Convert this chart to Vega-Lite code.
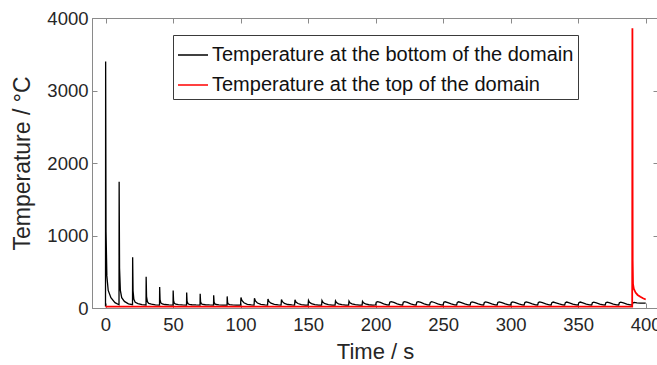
{
  "$schema": "https://vega.github.io/schema/vega-lite/v6.json",
  "width": 566,
  "height": 290,
  "autosize": {"type": "none"},
  "padding": {"left": 92, "top": 18, "right": 0, "bottom": 57},
  "background": "white",
  "config": {
    "font": "Liberation Sans",
    "view": {"stroke": "#8a8a8a", "strokeWidth": 1},
    "axis": {
      "grid": false,
      "domainColor": "#8a8a8a",
      "tickColor": "#8a8a8a",
      "tickSize": -5,
      "labelColor": "#262626",
      "titleColor": "#262626",
      "labelFont": "Liberation Sans",
      "titleFont": "Liberation Sans",
      "labelFontSize": 18.5,
      "titleFontSize": 22,
      "titleFontWeight": "normal"
    },
    "legend": {
      "orient": "none",
      "legendX": 81,
      "legendY": 17,
      "title": null,
      "padding": 4,
      "rowPadding": 4,
      "labelFont": "Liberation Sans",
      "labelFontSize": 20,
      "labelColor": "#111111",
      "labelLimit": 0,
      "labelOffset": 3,
      "symbolType": "stroke",
      "symbolSize": 900,
      "symbolStrokeWidth": 1.5,
      "strokeColor": "#3a3a3a",
      "fillColor": "white"
    }
  },
  "layer": [
    {
      "data": {"values": [
        {"t": 0, "v": 20}, {"t": 0.1, "v": 3400}, {"t": 0.4, "v": 1048}, {"t": 1, "v": 443}, {"t": 2, "v": 242}, {"t": 4, "v": 141}, {"t": 7, "v": 74},
        {"t": 10, "v": 45}, {"t": 10.1, "v": 1740}, {"t": 10.4, "v": 550}, {"t": 11, "v": 244}, {"t": 12, "v": 142}, {"t": 14, "v": 91}, {"t": 17, "v": 57},
        {"t": 20, "v": 45}, {"t": 20.1, "v": 700}, {"t": 20.4, "v": 238}, {"t": 21, "v": 119}, {"t": 22, "v": 80}, {"t": 24, "v": 60}, {"t": 27, "v": 47},
        {"t": 30, "v": 42}, {"t": 30.1, "v": 430}, {"t": 30.4, "v": 157}, {"t": 31, "v": 87}, {"t": 32, "v": 63}, {"t": 34, "v": 52}, {"t": 37, "v": 44},
        {"t": 40, "v": 41}, {"t": 40.1, "v": 290}, {"t": 40.4, "v": 115}, {"t": 41, "v": 70}, {"t": 42, "v": 55}, {"t": 44, "v": 48}, {"t": 47, "v": 43},
        {"t": 50, "v": 41}, {"t": 50.1, "v": 240}, {"t": 50.4, "v": 100}, {"t": 51, "v": 64}, {"t": 52, "v": 52}, {"t": 54, "v": 46}, {"t": 57, "v": 42},
        {"t": 60, "v": 41}, {"t": 60.1, "v": 215}, {"t": 60.4, "v": 93}, {"t": 61, "v": 61}, {"t": 62, "v": 51}, {"t": 64, "v": 45}, {"t": 67, "v": 42},
        {"t": 70, "v": 41}, {"t": 70.1, "v": 195}, {"t": 70.4, "v": 87}, {"t": 71, "v": 59}, {"t": 72, "v": 49}, {"t": 74, "v": 45}, {"t": 77, "v": 42},
        {"t": 80, "v": 41}, {"t": 80.1, "v": 175}, {"t": 80.4, "v": 81}, {"t": 81, "v": 56}, {"t": 82, "v": 48}, {"t": 84, "v": 44}, {"t": 87, "v": 41},
        {"t": 90, "v": 41}, {"t": 90.1, "v": 160}, {"t": 90.4, "v": 76}, {"t": 91, "v": 54}, {"t": 92, "v": 47}, {"t": 94, "v": 44}, {"t": 97, "v": 41},
        {"t": 100, "v": 41}, {"t": 100.3, "v": 145}, {"t": 101, "v": 103}, {"t": 102.5, "v": 72}, {"t": 105, "v": 51}, {"t": 108, "v": 42},
        {"t": 110, "v": 41}, {"t": 110.3, "v": 135}, {"t": 111, "v": 97}, {"t": 112.5, "v": 69}, {"t": 115, "v": 50}, {"t": 118, "v": 42},
        {"t": 120, "v": 41}, {"t": 120.3, "v": 125}, {"t": 121, "v": 91}, {"t": 122.5, "v": 66}, {"t": 125, "v": 49}, {"t": 128, "v": 42},
        {"t": 130, "v": 41}, {"t": 130.3, "v": 118}, {"t": 131, "v": 87}, {"t": 132.5, "v": 63}, {"t": 135, "v": 48}, {"t": 138, "v": 42},
        {"t": 140, "v": 41}, {"t": 140.3, "v": 112}, {"t": 141, "v": 83}, {"t": 142.5, "v": 62}, {"t": 145, "v": 47}, {"t": 148, "v": 41},
        {"t": 150, "v": 41}, {"t": 150.3, "v": 106}, {"t": 151, "v": 80}, {"t": 152.5, "v": 60}, {"t": 155, "v": 47}, {"t": 158, "v": 41},
        {"t": 160, "v": 41}, {"t": 160.3, "v": 102}, {"t": 161, "v": 77}, {"t": 162.5, "v": 59}, {"t": 165, "v": 46}, {"t": 168, "v": 41},
        {"t": 170, "v": 41}, {"t": 170.3, "v": 98}, {"t": 171, "v": 75}, {"t": 172.5, "v": 57}, {"t": 175, "v": 46}, {"t": 178, "v": 41},
        {"t": 180, "v": 41}, {"t": 180.3, "v": 95}, {"t": 181, "v": 73}, {"t": 182.5, "v": 57}, {"t": 185, "v": 46}, {"t": 188, "v": 41},
        {"t": 190, "v": 41}, {"t": 190.3, "v": 92}, {"t": 191, "v": 71}, {"t": 192.5, "v": 56}, {"t": 195, "v": 45}, {"t": 198, "v": 41},
        {"t": 200, "v": 42}, {"t": 200.5, "v": 79}, {"t": 201.5, "v": 88}, {"t": 203.5, "v": 77}, {"t": 206, "v": 58}, {"t": 208.5, "v": 44},
        {"t": 210, "v": 42}, {"t": 210.5, "v": 79}, {"t": 211.5, "v": 88}, {"t": 213.5, "v": 77}, {"t": 216, "v": 58}, {"t": 218.5, "v": 44},
        {"t": 220, "v": 42}, {"t": 220.5, "v": 79}, {"t": 221.5, "v": 88}, {"t": 223.5, "v": 77}, {"t": 226, "v": 58}, {"t": 228.5, "v": 44},
        {"t": 230, "v": 42}, {"t": 230.5, "v": 79}, {"t": 231.5, "v": 87}, {"t": 233.5, "v": 76}, {"t": 236, "v": 58}, {"t": 238.5, "v": 44},
        {"t": 240, "v": 42}, {"t": 240.5, "v": 78}, {"t": 241.5, "v": 87}, {"t": 243.5, "v": 76}, {"t": 246, "v": 57}, {"t": 248.5, "v": 44},
        {"t": 250, "v": 42}, {"t": 250.5, "v": 78}, {"t": 251.5, "v": 86}, {"t": 253.5, "v": 75}, {"t": 256, "v": 57}, {"t": 258.5, "v": 44},
        {"t": 260, "v": 42}, {"t": 260.5, "v": 77}, {"t": 261.5, "v": 86}, {"t": 263.5, "v": 75}, {"t": 266, "v": 57}, {"t": 268.5, "v": 44},
        {"t": 270, "v": 42}, {"t": 270.5, "v": 77}, {"t": 271.5, "v": 85}, {"t": 273.5, "v": 75}, {"t": 276, "v": 57}, {"t": 278.5, "v": 44},
        {"t": 280, "v": 42}, {"t": 280.5, "v": 76}, {"t": 281.5, "v": 85}, {"t": 283.5, "v": 74}, {"t": 286, "v": 56}, {"t": 288.5, "v": 44},
        {"t": 290, "v": 42}, {"t": 290.5, "v": 76}, {"t": 291.5, "v": 84}, {"t": 293.5, "v": 74}, {"t": 296, "v": 56}, {"t": 298.5, "v": 44},
        {"t": 300, "v": 42}, {"t": 300.5, "v": 75}, {"t": 301.5, "v": 83}, {"t": 303.5, "v": 73}, {"t": 306, "v": 56}, {"t": 308.5, "v": 44},
        {"t": 310, "v": 42}, {"t": 310.5, "v": 75}, {"t": 311.5, "v": 83}, {"t": 313.5, "v": 73}, {"t": 316, "v": 56}, {"t": 318.5, "v": 44},
        {"t": 320, "v": 42}, {"t": 320.5, "v": 75}, {"t": 321.5, "v": 83}, {"t": 323.5, "v": 73}, {"t": 326, "v": 56}, {"t": 328.5, "v": 44},
        {"t": 330, "v": 42}, {"t": 330.5, "v": 74}, {"t": 331.5, "v": 82}, {"t": 333.5, "v": 72}, {"t": 336, "v": 56}, {"t": 338.5, "v": 44},
        {"t": 340, "v": 42}, {"t": 340.5, "v": 74}, {"t": 341.5, "v": 82}, {"t": 343.5, "v": 72}, {"t": 346, "v": 55}, {"t": 348.5, "v": 44},
        {"t": 350, "v": 42}, {"t": 350.5, "v": 74}, {"t": 351.5, "v": 82}, {"t": 353.5, "v": 72}, {"t": 356, "v": 55}, {"t": 358.5, "v": 44},
        {"t": 360, "v": 42}, {"t": 360.5, "v": 73}, {"t": 361.5, "v": 81}, {"t": 363.5, "v": 71}, {"t": 366, "v": 55}, {"t": 368.5, "v": 44},
        {"t": 370, "v": 42}, {"t": 370.5, "v": 73}, {"t": 371.5, "v": 81}, {"t": 373.5, "v": 71}, {"t": 376, "v": 55}, {"t": 378.5, "v": 44},
        {"t": 380, "v": 42}, {"t": 380.5, "v": 73}, {"t": 381.5, "v": 80}, {"t": 383.5, "v": 71}, {"t": 386, "v": 55}, {"t": 388.5, "v": 44},
        {"t": 390, "v": 42}, {"t": 390.5, "v": 70}, {"t": 391.5, "v": 78}, {"t": 393.5, "v": 72}, {"t": 396, "v": 68}, {"t": 400, "v": 66}
      ]},
      "mark": {"type": "line", "strokeWidth": 1.3, "clip": true},
      "encoding": {
        "x": {"field": "t", "type": "quantitative", "scale": {"domain": [-10, 409.1], "nice": false, "zero": false},
              "axis": {"orient": "bottom", "values": [0, 50, 100, 150, 200, 250, 300, 350, 400], "format": "d", "title": "Time / s", "labelPadding": 12, "titlePadding": 8}},
        "y": {"field": "v", "type": "quantitative", "scale": {"domain": [0, 4000], "nice": false},
              "axis": {"orient": "left", "values": [0, 1000, 2000, 3000, 4000], "format": "d", "title": "Temperature / °C", "titleFontSize": 23, "labelPadding": 9, "titlePadding": 12}},
        "color": {"datum": "Temperature at the bottom of the domain", "type": "nominal",
                  "scale": {"domain": ["Temperature at the bottom of the domain", "Temperature at the top of the domain"], "range": ["#000000", "#ff0000"]}}
      }
    },
    {
      "data": {"values": [
        {"t": 0, "v": 20}, {"t": 390, "v": 20}, {"t": 390.15, "v": 3860}, {"t": 390.35, "v": 650}, {"t": 390.6, "v": 330},
        {"t": 391.2, "v": 265}, {"t": 392.5, "v": 212}, {"t": 394, "v": 180}, {"t": 396, "v": 155}, {"t": 398, "v": 135}, {"t": 400, "v": 118}
      ]},
      "mark": {"type": "line", "strokeWidth": 1.8, "clip": true},
      "encoding": {
        "x": {"field": "t", "type": "quantitative", "axis": null},
        "y": {"field": "v", "type": "quantitative", "axis": null},
        "color": {"datum": "Temperature at the top of the domain", "type": "nominal"}
      }
    },
    {
      "data": {"values": [
        {"t": 0, "v": 20}, {"t": 400, "v": 20}
      ]},
      "mark": {"type": "line", "opacity": 0},
      "encoding": {
        "x": {"field": "t", "type": "quantitative",
              "axis": {"orient": "top", "values": [0, 50, 100, 150, 200, 250, 300, 350, 400], "labels": false, "title": null}},
        "y": {"field": "v", "type": "quantitative",
              "axis": {"orient": "right", "values": [0, 1000, 2000, 3000, 4000], "labels": false, "title": null}}
      }
    }
  ],
  "resolve": {"axis": {"x": "independent", "y": "independent"}}
}
